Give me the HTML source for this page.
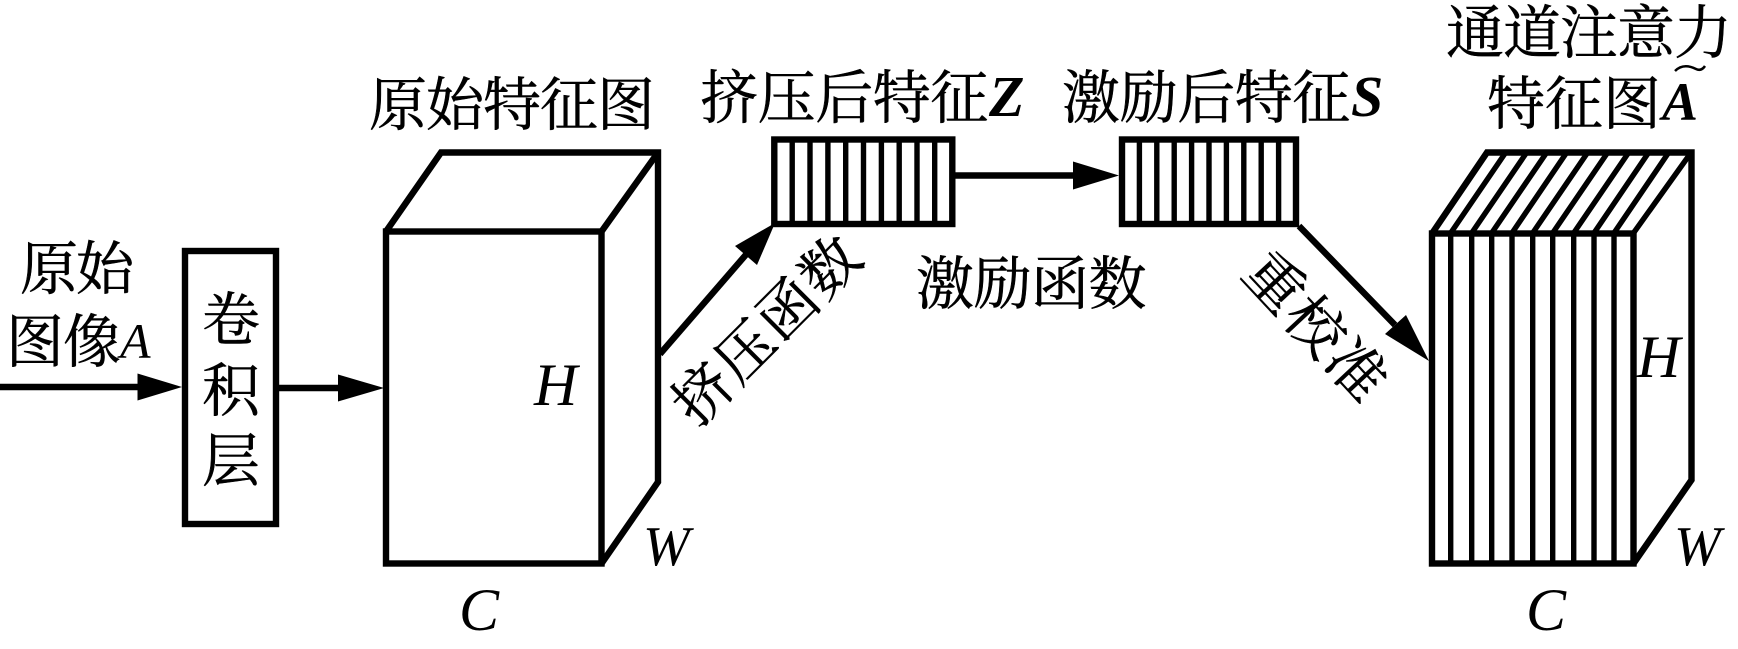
<!DOCTYPE html>
<html>
<head>
<meta charset="utf-8">
<style>
html,body{margin:0;padding:0;background:#fff;width:1738px;height:649px;overflow:hidden}
svg{display:block}
.c{font-family:"Liberation Serif","Noto Serif CJK SC",serif;font-size:58px;fill:#000;stroke:#000;stroke-width:.5px}
.i{font-family:"Liberation Serif",serif;font-style:italic;fill:#000}
.b{font-family:"Liberation Serif",serif;font-style:italic;font-weight:bold;fill:#000}
</style>
</head>
<body>
<svg width="1738" height="649" viewBox="0 0 1738 649" xmlns="http://www.w3.org/2000/svg">
<rect width="1738" height="649" fill="#fff"/>
<g fill="none" stroke="#000" stroke-width="6.4" stroke-linejoin="miter">
  <rect x="185" y="251" width="91" height="273"/>
  <rect x="386" y="231.5" width="215.5" height="332"/>
  <path d="M386 231.5L441 152.5H658V482L601.5 563.5"/>
  <path d="M601.5 231.5L658 152.5"/>
  <rect x="774.3" y="139.5" width="178" height="84.5"/>
  <rect x="1122" y="139.5" width="174" height="84.5"/>
  <rect x="1432" y="233.5" width="201.5" height="330"/>
  <path d="M1432 233.5L1487 152.5H1691.5V480L1633.5 563.5"/>
</g>
<g stroke="#000" stroke-width="5.4" fill="none">
  <path d="M792.2 139V224M810 139V224M827.9 139V224M845.7 139V224M863.5 139V224M881.4 139V224M899.2 139V224M917 139V224M934.7 139V224"/>
  <path d="M1139.4 139V224M1156.8 139V224M1174.2 139V224M1191.6 139V224M1209 139V224M1226.4 139V224M1243.8 139V224M1261.2 139V224M1278.6 139V224"/>
  <path d="M1450.7 233V564M1471.7 233V564M1491.7 233V564M1512 233V564M1532.7 233V564M1552.7 233V564M1573.7 233V564M1594 233V564M1614 233V564"/>
  <path d="M1450.7 233L1506 152M1471.7 233L1527 152M1491.7 233L1547 152M1512 233L1567 152M1532.7 233L1588 152M1552.7 233L1608 152M1573.7 233L1629 152M1594 233L1649 152M1614 233L1669 152M1633.5 233L1691.5 152"/>
</g>
<g stroke="#000" stroke-width="6.4" fill="none">
  <path d="M0 387H145"/>
  <path d="M279 388H345"/>
  <path d="M955 175.5H1080"/>
  <path d="M660 354L750 250"/>
  <path d="M1299 226L1395 325"/>
</g>
<g fill="#000">
  <path d="M182 387L137.5 373.5V400.5Z"/>
  <path d="M384 388L338 374.5V401.5Z"/>
  <path d="M1119 175.5L1073 161.5V189.5Z"/>
  <path d="M775 223L735 246L757 265Z"/>
  <path d="M1429 361L1385 334L1406 315Z"/>
</g>

<text class="c" x="369 426 483 540 597" y="125">原始特征图</text>
<text class="c" x="20 76" y="289">原始</text>
<text class="c" x="6 63" y="362">图像</text>
<text class="i" x="120" y="358" font-size="50">A</text>
<text class="c" x="202" y="340">卷</text>
<text class="c" x="202" y="411">积</text>
<text class="c" x="202" y="481">层</text>
<text class="c" x="700 757.6 815.2 872.8 930.4" y="118">挤压后特征</text>
<text class="b" x="989" y="116" font-size="58">Z</text>
<text class="c" x="1062 1119.6 1177.2 1234.8 1292.4" y="118">激励后特征</text>
<text class="b" x="1351" y="116" font-size="58">S</text>
<text class="c" x="916 973.5 1031 1088.5" y="304">激励函数</text>
<text class="c" x="1446 1503 1560 1617 1674" y="53">通道注意力</text>
<text class="c" x="1487 1545 1603" y="124">特征图</text>
<text class="b" x="1662" y="120" font-size="54">A</text>
<path d="M1675 71C1682 64 1690 66 1696 69C1700 71 1703 69 1705 66" fill="none" stroke="#000" stroke-width="2.5"/>

<text class="i" x="534" y="405" font-size="60">H</text>
<text class="i" x="643" y="565" font-size="56">W</text>
<text class="i" x="459" y="630" font-size="60">C</text>
<text class="i" x="1637" y="377" font-size="60">H</text>
<text class="i" x="1674" y="565" font-size="56">W</text>
<text class="i" x="1526" y="630" font-size="60">C</text>

<g transform="translate(766 330) rotate(-45)">
  <text class="c" x="-119 -59 1 61" y="21">挤压函数</text>
</g>
<g transform="translate(1316 326) rotate(47)">
  <text class="c" x="-89 -29 31" y="21">重校准</text>
</g>
</svg>
</body>
</html>
